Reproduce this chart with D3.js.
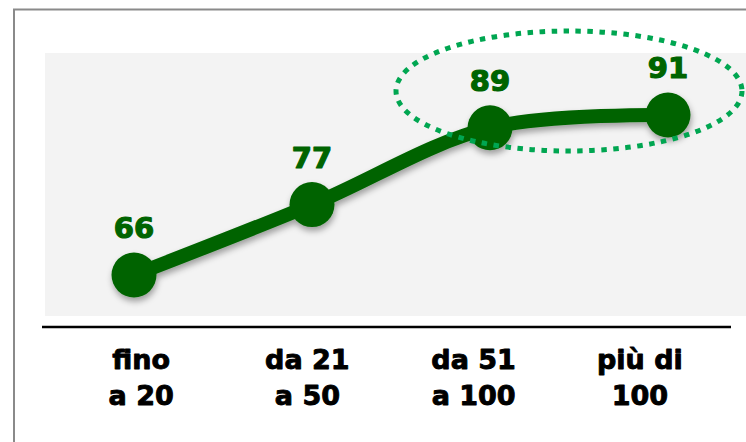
<!DOCTYPE html>
<html><head><meta charset="utf-8">
<script src="https://cdn.jsdelivr.net/npm/d3@7"></script>
<style>html,body{margin:0;padding:0;background:#fff;}svg{display:block;}</style>
</head><body>
<svg id="chart" width="746" height="442"></svg>
<script>
const categories = ["fino a 20", "da 21 a 50", "da 51 a 100", "più di 100"];
const labelLines = [["fino", "a 20"], ["da 21", "a 50"], ["da 51", "a 100"], ["più di", "100"]];
const values = [66, 77, 89, 91];
const highlighted = ["da 51 a 100", "più di 100"];

const svg = d3.select("#chart");
const W = 746, H = 442;
const green = "#006400";

const defs = svg.append("defs");
const f = defs.append("filter").attr("id", "shadow").attr("x", "-30%").attr("y", "-30%").attr("width", "160%").attr("height", "180%");
f.append("feDropShadow").attr("dx", 1).attr("dy", 4).attr("stdDeviation", 3)
  .attr("flood-color", "#000").attr("flood-opacity", 0.35);

// outer frame
svg.append("rect").attr("x", 14).attr("y", 9.5).attr("width", 900).attr("height", 600)
  .attr("fill", "none").attr("stroke", "#8a8a8a").attr("stroke-width", 2);

// plot background
svg.append("rect").attr("x", 45).attr("y", 53).attr("width", W - 45).attr("height", 263)
  .attr("fill", "#f3f3f3");

const x = d3.scalePoint().domain(categories).range([134, 668]);
const xl = d3.scaleBand().domain(categories).range([58, 723]);
const y = d3.scaleLinear().domain([60, 100]).range([313.4, 57.4]);

// baseline
svg.append("line").attr("x1", 42).attr("x2", 731).attr("y1", 327).attr("y2", 327)
  .attr("stroke", "#000").attr("stroke-width", 2.5);

// category labels
const lab = svg.append("g").attr("font-family", "DejaVu Sans, sans-serif")
  .attr("font-weight", "bold").attr("font-size", 27).attr("fill", "#000")
  .attr("stroke", "#000").attr("stroke-width", 0.9).attr("stroke-linejoin", "round")
  .attr("text-anchor", "middle");
categories.forEach((c, i) => {
  labelLines[i].forEach((t, j) => {
    lab.append("text").attr("x", xl(c) + xl.bandwidth() / 2).attr("y", 369 + j * 36).text(t);
  });
});

const data = categories.map((c, i) => ({c, v: values[i]}));

// line + points with shadow
const g = svg.append("g").attr("filter", "url(#shadow)");
g.append("path").datum(data)
  .attr("d", d3.line().x(d => x(d.c)).y(d => y(d.v)).curve(d3.curveCatmullRom.alpha(0.5)))
  .attr("fill", "none").attr("stroke", green).attr("stroke-width", 14).attr("stroke-linecap", "round");
g.selectAll("circle").data(data).join("circle")
  .attr("cx", d => x(d.c)).attr("cy", d => y(d.v)).attr("r", 22.5).attr("fill", green);

// value labels
svg.append("g").selectAll("text").data(data).join("text")
  .attr("x", d => x(d.c)).attr("y", d => y(d.v) - 37)
  .attr("text-anchor", "middle").attr("font-family", "DejaVu Sans, sans-serif")
  .attr("font-weight", "bold").attr("font-size", 29).attr("fill", green)
  .attr("stroke", green).attr("stroke-width", 1.2).attr("stroke-linejoin", "round")
  .text(d => d.v);

// highlight ellipse
const hx = highlighted.map(x);
svg.append("ellipse")
  .attr("cx", (hx[0] + hx[1]) / 2 - 10).attr("cy", 91)
  .attr("rx", (hx[1] - hx[0]) / 2 + 84).attr("ry", 60)
  .attr("fill", "none").attr("stroke", "#00a651").attr("stroke-width", 5)
  .attr("stroke-dasharray", "5.5,6.5");
</script>
</body></html>
